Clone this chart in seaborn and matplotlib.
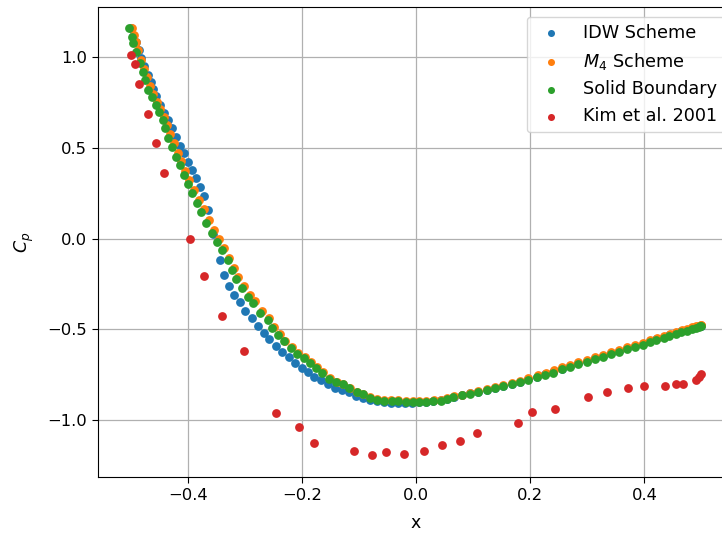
import matplotlib
matplotlib.use("Agg")
import matplotlib.pyplot as plt
import seaborn as sns
import pandas as pd

# ---- data ----
idw_x = [-0.500, -0.495, -0.491, -0.486, -0.481, -0.476, -0.470, -0.465, -0.460, -0.455,
         -0.448, -0.441, -0.434, -0.427, -0.420, -0.413, -0.407, -0.400, -0.393, -0.386,
         -0.379, -0.372, -0.364, -0.355, -0.344, -0.337, -0.327, -0.318, -0.308, -0.299,
         -0.287, -0.276, -0.267, -0.257, -0.245, -0.234, -0.222, -0.212, -0.199, -0.189,
         -0.178, -0.166, -0.154, -0.142, -0.129, -0.117, -0.105, -0.093, -0.080, -0.068,
         -0.056, -0.044, -0.031, -0.019, -0.007, 0.005, 0.017, 0.030, 0.044,
         0.054, 0.066, 0.080, 0.094, 0.108, 0.124, 0.138, 0.152, 0.168, 0.182,
         0.196, 0.212, 0.226, 0.240, 0.255, 0.269, 0.283, 0.299, 0.313, 0.327,
         0.341, 0.355, 0.369, 0.383, 0.397, 0.409, 0.421, 0.434, 0.444, 0.455,
         0.465, 0.474, 0.483, 0.490, 0.495, 0.498, 0.500]
idw_cp = [1.163, 1.118, 1.085, 1.041, 0.997, 0.953, 0.904, 0.865, 0.826, 0.788,
          0.738, 0.694, 0.656, 0.612, 0.562, 0.512, 0.474, 0.424, 0.380, 0.336,
          0.287, 0.237, 0.160, 0.028, -0.116, -0.198, -0.259, -0.309, -0.347, -0.397,
          -0.435, -0.479, -0.518, -0.551, -0.590, -0.623, -0.650, -0.683, -0.711, -0.733,
          -0.760, -0.782, -0.799, -0.821, -0.837, -0.848, -0.865, -0.876, -0.887, -0.893,
          -0.898, -0.904, -0.904, -0.904, -0.904, -0.898, -0.898, -0.893, -0.887,
          -0.883, -0.872, -0.862, -0.852, -0.844, -0.834, -0.823, -0.812, -0.800, -0.789,
          -0.774, -0.761, -0.745, -0.733, -0.716, -0.703, -0.688, -0.675, -0.658, -0.645,
          -0.629, -0.617, -0.601, -0.590, -0.579, -0.564, -0.553, -0.543, -0.532, -0.521,
          -0.511, -0.505, -0.495, -0.489, -0.484, -0.481, -0.479]

m4_x = [-0.498, -0.494, -0.491, -0.487, -0.481, -0.476, -0.471, -0.466, -0.460, -0.454,
        -0.448, -0.442, -0.436, -0.431, -0.424, -0.417, -0.411, -0.404, -0.397, -0.389,
        -0.380, -0.372, -0.363, -0.354, -0.345, -0.336, -0.327, -0.319, -0.311, -0.301,
        -0.291, -0.282, -0.270, -0.258, -0.249, -0.239, -0.229, -0.217, -0.206, -0.195,
        -0.184, -0.174, -0.163, -0.151, -0.139, -0.127, -0.116, -0.103, -0.092, -0.080,
        -0.068, -0.056, -0.043, -0.031, -0.018, -0.005, 0.006, 0.018, 0.031, 0.044,
        0.055, 0.066, 0.081, 0.095, 0.109, 0.125, 0.139, 0.153, 0.169, 0.183,
        0.197, 0.213, 0.227, 0.241, 0.256, 0.270, 0.284, 0.300, 0.314, 0.328,
        0.342, 0.356, 0.370, 0.384, 0.398, 0.410, 0.422, 0.435, 0.445, 0.456,
        0.466, 0.475, 0.484, 0.491, 0.496, 0.499, 0.500]
m4_cp = [1.160, 1.120, 1.085, 1.040, 0.985, 0.935, 0.890, 0.840, 0.800, 0.755,
         0.715, 0.672, 0.628, 0.575, 0.525, 0.472, 0.428, 0.372, 0.322, 0.270,
         0.215, 0.165, 0.105, 0.048, -0.003, -0.050, -0.105, -0.160, -0.210, -0.260,
         -0.310, -0.345, -0.400, -0.440, -0.485, -0.525, -0.563, -0.598, -0.631, -0.654,
         -0.681, -0.709, -0.736, -0.768, -0.790, -0.803, -0.824, -0.845, -0.856, -0.872,
         -0.882, -0.888, -0.890, -0.892, -0.896, -0.897, -0.897, -0.896, -0.891, -0.889,
         -0.878, -0.868, -0.860, -0.850, -0.841, -0.829, -0.818, -0.806, -0.795, -0.783,
         -0.767, -0.754, -0.738, -0.726, -0.709, -0.697, -0.681, -0.669, -0.652, -0.641,
         -0.625, -0.614, -0.597, -0.586, -0.575, -0.559, -0.547, -0.537, -0.526, -0.515,
         -0.505, -0.499, -0.489, -0.484, -0.479, -0.477, -0.475]

solid_x = [-0.502, -0.497, -0.495, -0.490, -0.484, -0.479, -0.474, -0.469, -0.462, -0.456,
           -0.451, -0.444, -0.439, -0.434, -0.427, -0.420, -0.414, -0.407, -0.400, -0.392,
           -0.383, -0.376, -0.367, -0.357, -0.348, -0.339, -0.330, -0.322, -0.315, -0.304,
           -0.294, -0.285, -0.273, -0.260, -0.252, -0.241, -0.231, -0.219, -0.208, -0.196,
           -0.185, -0.175, -0.164, -0.152, -0.140, -0.128, -0.117, -0.103, -0.093, -0.080,
           -0.068, -0.056, -0.042, -0.031, -0.017, -0.005, 0.005, 0.017, 0.030, 0.044,
           0.054, 0.065, 0.080, 0.094, 0.108, 0.124, 0.138, 0.152, 0.168, 0.182,
           0.196, 0.212, 0.226, 0.240, 0.255, 0.269, 0.283, 0.299, 0.313, 0.327,
           0.341, 0.355, 0.369, 0.383, 0.397, 0.409, 0.421, 0.434, 0.444, 0.455,
           0.465, 0.474, 0.483, 0.490, 0.495, 0.498, 0.500]
solid_cp = [1.163, 1.113, 1.080, 1.030, 0.970, 0.920, 0.876, 0.821, 0.782, 0.738,
            0.700, 0.656, 0.612, 0.556, 0.507, 0.452, 0.408, 0.353, 0.303, 0.253,
            0.198, 0.149, 0.088, 0.033, -0.017, -0.061, -0.116, -0.171, -0.220, -0.270,
            -0.320, -0.353, -0.408, -0.446, -0.490, -0.529, -0.567, -0.601, -0.634, -0.656,
            -0.683, -0.711, -0.738, -0.771, -0.793, -0.804, -0.826, -0.848, -0.859, -0.876,
            -0.887, -0.893, -0.893, -0.893, -0.898, -0.898, -0.898, -0.898, -0.893, -0.893,
            -0.882, -0.872, -0.864, -0.855, -0.846, -0.836, -0.826, -0.815, -0.803, -0.792,
            -0.778, -0.765, -0.750, -0.738, -0.721, -0.709, -0.693, -0.681, -0.664, -0.652,
            -0.636, -0.624, -0.608, -0.596, -0.585, -0.569, -0.558, -0.547, -0.536, -0.525,
            -0.514, -0.508, -0.498, -0.492, -0.487, -0.484, -0.481]

kim_x = [-0.500, -0.493, -0.486, -0.470, -0.456, -0.441, -0.395, -0.371, -0.339, -0.302,
         -0.245, -0.205, -0.178, -0.108, -0.077, -0.052, -0.021, 0.014, 0.045, 0.077,
         0.107, 0.178, 0.203, 0.243, 0.302, 0.334, 0.371, 0.399, 0.437, 0.456,
         0.467, 0.490, 0.495, 0.500]
kim_cp = [1.014, 0.964, 0.854, 0.689, 0.529, 0.364, 0.000, -0.204, -0.424, -0.617,
          -0.959, -1.041, -1.124, -1.168, -1.190, -1.174, -1.185, -1.168, -1.140, -1.113,
          -1.069, -1.019, -0.953, -0.937, -0.871, -0.843, -0.826, -0.815, -0.810, -0.799,
          -0.799, -0.777, -0.760, -0.744]

series_names = ["IDW Scheme", "$M_4$ Scheme", "Solid Boundary", "Kim et al. 2001"]
series_colors = ["#1f77b4", "#ff7f0e", "#2ca02c", "#d62728"]
series_data = [(idw_x, idw_cp), (m4_x, m4_cp), (solid_x, solid_cp), (kim_x, kim_cp)]

plt.rcParams['font.family'] = ['DejaVu Sans']
fs_tick = 11.8
fs_label = 12.5
fs_leg = 12.7

fig = plt.figure(figsize=(7.22, 5.34), dpi=100)
ax = fig.add_axes([98 / 722, 57 / 534, 636 / 722, 470 / 534])

for name, color, (xs, ys) in zip(series_names, series_colors, series_data):
    df = pd.DataFrame({"x": xs, "Cp": ys})
    sns.scatterplot(data=df, x="x", y="Cp", ax=ax, color=color, s=40,
                    linewidth=0, label=name, zorder=3)

ax.set_xlim(-0.557, 0.557)
ax.set_ylim(-1.314, 1.277)
ax.set_xticks([-0.4, -0.2, 0.0, 0.2, 0.4])
ax.set_yticks([-1.0, -0.5, 0.0, 0.5, 1.0])
ax.grid(True, color="#b0b0b0", linewidth=0.9)
ax.set_axisbelow(True)
ax.tick_params(labelsize=fs_tick, length=4.5)
ax.set_xlabel("x", fontsize=fs_label, labelpad=8)
ax.set_ylabel("$C_p$", fontsize=fs_label, labelpad=8)
ax.legend(loc="upper right", fontsize=fs_leg, markerscale=0.8, labelspacing=0.5,
          borderaxespad=0.55)

fig.savefig("out.png", dpi=100)
